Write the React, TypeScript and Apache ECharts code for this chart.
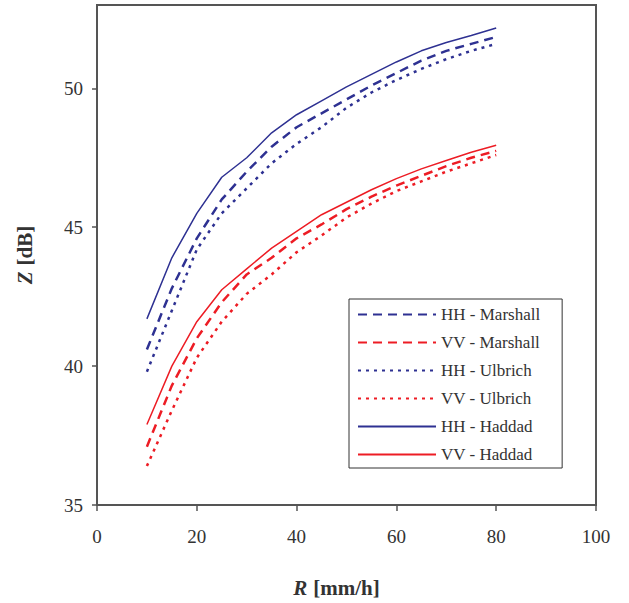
import React, { useEffect, useRef } from "react";
import * as echarts from "echarts";

const rainRates = [10, 15, 20, 25, 30, 35, 40, 45, 50, 55, 60, 65, 70, 75, 80];

const hhMarshall = [40.6, 42.8, 44.6, 46.0, 47.0, 47.9, 48.6, 49.1, 49.6, 50.1, 50.55, 51.0, 51.35, 51.6, 51.85];
const vvMarshall = [37.1, 39.3, 41.0, 42.3, 43.3, 43.9, 44.6, 45.1, 45.65, 46.1, 46.5, 46.85, 47.2, 47.5, 47.75];
const hhUlbrich = [39.8, 42.0, 44.2, 45.5, 46.4, 47.3, 48.0, 48.6, 49.3, 49.85, 50.3, 50.7, 51.05, 51.35, 51.6];
const vvUlbrich = [36.4, 38.4, 40.3, 41.6, 42.6, 43.3, 44.1, 44.7, 45.35, 45.85, 46.3, 46.65, 47.0, 47.3, 47.6];
const hhHaddad = [41.7, 43.9, 45.5, 46.8, 47.5, 48.4, 49.05, 49.55, 50.05, 50.5, 50.95, 51.35, 51.65, 51.9, 52.17];
const vvHaddad = [37.9, 40.0, 41.6, 42.75, 43.5, 44.25, 44.85, 45.45, 45.9, 46.35, 46.75, 47.1, 47.4, 47.7, 47.95];

const xTicks = [0, 20, 40, 60, 80, 100];
const yTicks = [35, 40, 45, 50];

const BLUE = "#2E3192";
const RED = "#ED1C24";
const FONT = "'Liberation Serif', 'Times New Roman', serif";

type S = { name: string; data: number[]; color: string; kind: "dashed" | "dotted" | "solid" };
const seriesDefs: S[] = [
  { name: "HH - Marshall", data: hhMarshall, color: BLUE, kind: "dashed" },
  { name: "VV - Marshall", data: vvMarshall, color: RED, kind: "dashed" },
  { name: "HH - Ulbrich", data: hhUlbrich, color: BLUE, kind: "dotted" },
  { name: "VV - Ulbrich", data: vvUlbrich, color: RED, kind: "dotted" },
  { name: "HH - Haddad", data: hhHaddad, color: BLUE, kind: "solid" },
  { name: "VV - Haddad", data: vvHaddad, color: RED, kind: "solid" },
];

export default function App() {
  const ref = useRef<HTMLDivElement>(null);
  useEffect(() => {
    if (!ref.current) return;
    const chart = echarts.init(ref.current, null, { renderer: "svg" });
    const series = seriesDefs.map((s) => ({
      name: s.name,
      type: "line",
      symbol: "none",
      data: rainRates.map((r, i) => [r, s.data[i]]),
      lineStyle: {
        color: s.color,
        width: s.kind === "solid" ? 1.5 : 2.5,
        type: s.kind === "dashed" ? [9, 6] : s.kind === "dotted" ? [3, 5] : "solid",
      },
      itemStyle: { color: s.color },
    }));
    chart.setOption({
      animation: false,
      backgroundColor: "#fff",
      textStyle: { fontFamily: FONT },
      grid: {
        left: 97,
        right: 33,
        top: 5,
        bottom: 97,
        show: true,
        borderColor: "#555",
        borderWidth: 2,
        backgroundColor: "transparent",
      },
      legend: {
        orient: "vertical",
        left: 349,
        top: 299,
        itemWidth: 78,
        itemHeight: 14,
        itemGap: 11,
        padding: [7, 22, 5, 8],
        borderColor: "#333",
        borderWidth: 1,
        itemStyle: { opacity: 0 },
        textStyle: { fontFamily: FONT, fontSize: 17, color: "#333" },
        data: seriesDefs.map((s) => s.name),
      },
      xAxis: {
        type: "value",
        min: 0,
        max: 100,
        interval: 20,
        splitLine: { show: false },
        axisLine: { show: true, onZero: false, lineStyle: { color: "#555", width: 2 } },
        axisTick: { show: true, length: 6, lineStyle: { color: "#555", width: 1.5 }, customValues: xTicks },
        axisLabel: { fontFamily: FONT, fontSize: 19, color: "#333", margin: 22, customValues: xTicks },
        name: "{i|R}  {b|[mm/h]}",
        nameLocation: "middle",
        nameGap: 72,
        nameTextStyle: {
          padding: [0, 20, 0, 0],
          rich: {
            i: { fontFamily: FONT, fontSize: 21, fontWeight: "bold", fontStyle: "italic", color: "#333" },
            b: { fontFamily: FONT, fontSize: 21, fontWeight: "bold", color: "#333" },
          },
        },
      },
      yAxis: {
        type: "value",
        min: 35,
        max: 53,
        interval: 5,
        splitLine: { show: false },
        axisLine: { show: true, onZero: false, lineStyle: { color: "#555", width: 2 } },
        axisTick: { show: true, length: 5, lineStyle: { color: "#555", width: 1.5 }, customValues: yTicks },
        axisLabel: { fontFamily: FONT, fontSize: 19, color: "#333", margin: 14, customValues: yTicks },
        name: "{i|Z}  {b|[dB]}",
        nameLocation: "middle",
        nameGap: 62,
        nameRotate: 90,
        nameTextStyle: {
          rich: {
            i: { fontFamily: FONT, fontSize: 21, fontWeight: "bold", fontStyle: "italic", color: "#333" },
            b: { fontFamily: FONT, fontSize: 21, fontWeight: "bold", color: "#333" },
          },
        },
      },
      series,
    });
    return () => chart.dispose();
  }, []);
  return <div ref={ref} style={{ width: 629, height: 603, position: "absolute", left: 0, top: 0 }} />;
}
